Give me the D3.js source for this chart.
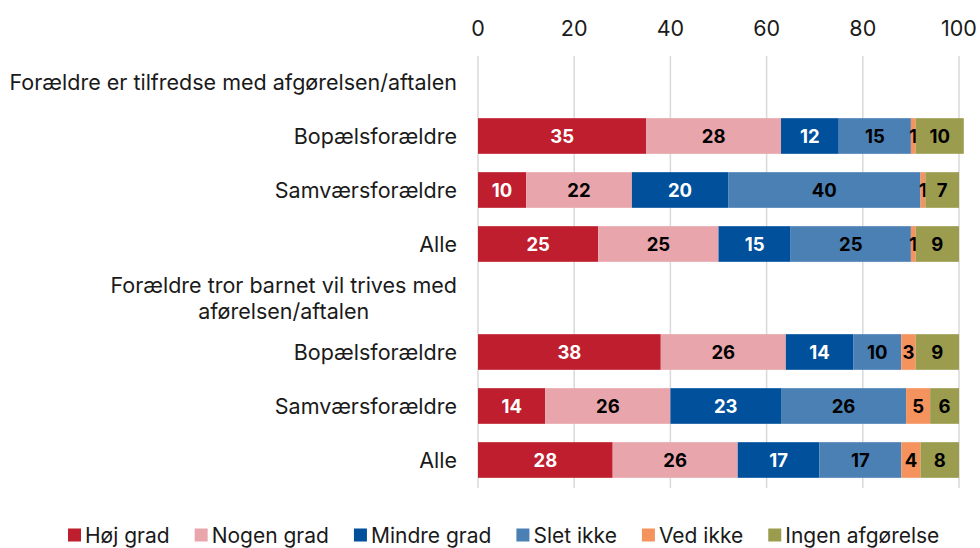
<!DOCTYPE html>
<html>
<head>
<meta charset="utf-8">
<script src="https://cdn.jsdelivr.net/npm/d3@7"></script>
<style>
  body { margin: 0; background: #fff; }
  svg { font-family: Inter, "Noto Sans", sans-serif; }
</style>
</head>
<body>
<svg id="chart"></svg>
<script>
const rows = [
  "Forældre er tilfredse med afgørelsen/aftalen",
  "Bopælsforældre",
  "Samværsforældre",
  "Alle",
  "Forældre tror barnet vil trives med\naførelsen/aftalen",
  "Bopælsforældre ",
  "Samværsforældre ",
  "Alle "
];
const seriesNames = ["Høj grad", "Nogen grad", "Mindre grad", "Slet ikke", "Ved ikke", "Ingen afgørelse"];
const colors = ["#be1e2d", "#e8a5ab", "#00509b", "#4a80b4", "#f4935e", "#9c9c4e"];
const labelColors = ["#fff", "#000", "#fff", "#000", "#000", "#000"];

const hojGrad      = [null, 35, 10, 25, null, 38, 14, 28];
const nogenGrad    = [null, 28, 22, 25, null, 26, 26, 26];
const mindreGrad   = [null, 12, 20, 15, null, 14, 23, 17];
const sletIkke     = [null, 15, 40, 25, null, 10, 26, 17];
const vedIkke      = [null, 1, 1, 1, null, 3, 5, 4];
const ingenAfg     = [null, 10, 7, 9, null, 9, 6, 8];
const xTicks = [0, 20, 40, 60, 80, 100];

const series = [hojGrad, nogenGrad, mindreGrad, sletIkke, vedIkke, ingenAfg];

const width = 980, height = 548;
const fs = 21.5;
const svg = d3.select("#chart").attr("width", width).attr("height", height);

const x = d3.scaleLinear().domain([0, 100]).range([478, 959]);
const y = d3.scaleBand().domain(rows).range([55, 487]).paddingInner(0.34).paddingOuter(0.17);

// grid
svg.append("g")
   .selectAll("line")
   .data(xTicks)
   .enter()
   .append("line")
   .attr("x1", d => x(d)).attr("x2", d => x(d))
   .attr("y1", 56).attr("y2", 488)
   .attr("stroke", "#d9d9d9")
   .attr("stroke-width", 1.5);

// top axis labels
svg.append("g")
   .selectAll("text")
   .data(xTicks)
   .enter()
   .append("text")
   .attr("x", d => x(d))
   .attr("y", 36)
   .attr("text-anchor", "middle")
   .attr("font-size", fs)
   .attr("fill", "#1a1a1a")
   .text(d => d);

// stacked segments
const stackData = rows.map((r, i) => {
  const o = { row: r };
  seriesNames.forEach((s, j) => { o[s] = series[j][i] || 0; });
  return o;
});
const stacked = d3.stack().keys(seriesNames)(stackData);

const layers = svg.append("g")
   .selectAll("g")
   .data(stacked)
   .enter()
   .append("g")
   .attr("fill", (d, i) => colors[i]);

layers.selectAll("rect")
   .data(d => d.filter(s => s[1] > s[0]))
   .enter()
   .append("rect")
   .attr("x", d => x(d[0]))
   .attr("y", d => y(d.data.row))
   .attr("width", d => x(d[1]) - x(d[0]))
   .attr("height", y.bandwidth());

layers.selectAll("text")
   .data((d, i) => d.filter(s => s[1] > s[0]).map(s => ({ s, i })))
   .enter()
   .append("text")
   .attr("x", d => (x(d.s[0]) + x(d.s[1])) / 2)
   .attr("y", d => y(d.s.data.row) + y.bandwidth() / 2)
   .attr("dy", "0.36em")
   .attr("text-anchor", "middle")
   .attr("font-size", 18.5)
   .attr("font-weight", 700)
   .attr("fill", d => labelColors[d.i])
   .text(d => d.s[1] - d.s[0]);

// category labels
const catG = svg.append("g");
rows.forEach((r, i) => {
  const lines = r.trim().split("\n");
  const cy = y(r) + y.bandwidth() / 2;
  const t = catG.append("text")
     .attr("font-size", fs)
     .attr("fill", "#1a1a1a")
     .attr("text-anchor", lines.length > 1 ? "middle" : "end");
  lines.forEach((l, k) => {
    t.append("tspan")
     .attr("x", 0)
     .attr("y", cy + (k - (lines.length - 1) / 2) * 26)
     .attr("dy", "0.36em")
     .text(l);
  });
  if (lines.length > 1) {
    const w = t.node().getBBox().width;
    t.selectAll("tspan").attr("x", 457 - w / 2);
  } else {
    t.selectAll("tspan").attr("x", 457);
  }
});

// legend
const legend = svg.append("g").attr("transform", "translate(68,535)");
let lx = 0;
seriesNames.forEach((s, i) => {
  const g = legend.append("g").attr("transform", `translate(${lx},0)`);
  g.append("rect").attr("x", 0).attr("y", -6.5).attr("width", 13).attr("height", 13).attr("fill", colors[i]);
  const t = g.append("text").attr("x", 17).attr("y", 0).attr("dy", "0.36em")
     .attr("font-size", 21).attr("fill", "#1a1a1a").text(s);
  lx += 17 + t.node().getComputedTextLength() + 25;
});
</script>
</body>
</html>
